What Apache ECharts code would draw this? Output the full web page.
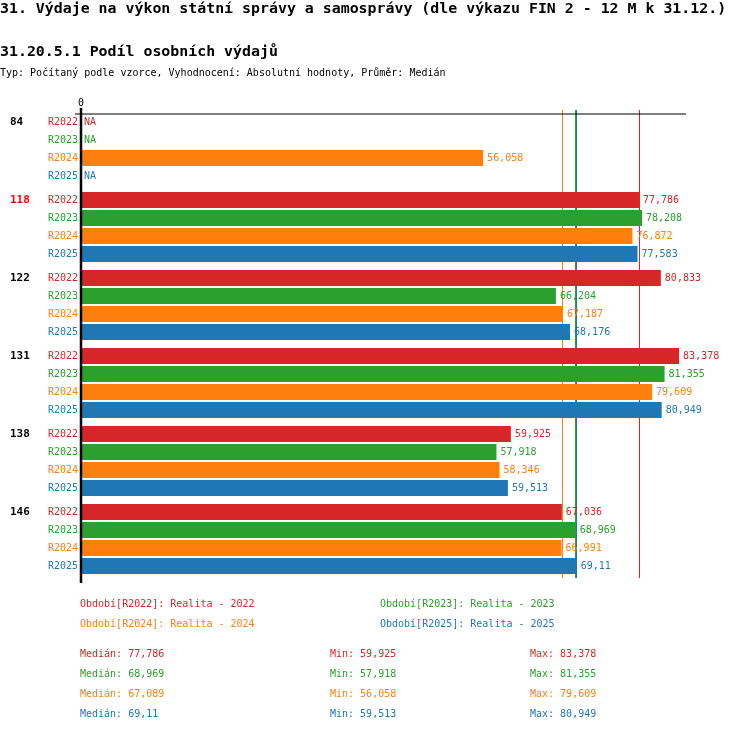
<!DOCTYPE html>
<html><head><meta charset="utf-8">
<script src="https://cdn.jsdelivr.net/npm/echarts@6/dist/echarts.min.js"></script>
<style>html,body{margin:0;padding:0;background:#fff}#c{width:750px;height:732px}</style>
</head><body><div id="c"></div>
<script>
// ---- data ----
const titleText = '31. Výdaje na výkon státní správy a samosprávy (dle výkazu FIN 2 - 12 M k 31.12.)';
const subtitleText = '31.20.5.1 Podíl osobních výdajů';
const infoText = 'Typ: Počítaný podle vzorce, Vyhodnocení: Absolutní hodnoty, Průměr: Medián';
const categories = ['84', '118', '122', '131', '138', '146'];
const highlighted = '118';
const seriesNames = ['R2022', 'R2023', 'R2024', 'R2025'];
const legendNames = ['Období[R2022]: Realita - 2022', 'Období[R2023]: Realita - 2023',
                     'Období[R2024]: Realita - 2024', 'Období[R2025]: Realita - 2025'];
const r2022 = [null, 77.786, 80.833, 83.378, 59.925, 67.036];
const r2023 = [null, 78.208, 66.204, 81.355, 57.918, 68.969];
const r2024 = [56.058, 76.872, 67.187, 79.609, 58.346, 66.991];
const r2025 = [null, 77.583, 68.176, 80.949, 59.513, 69.11];
const axisMax = 84.34;

// ---- style ----
const colors = ['#d62728', '#2ca02c', '#ff7f0e', '#1f77b4'];
const FONT = '"DejaVu Sans Mono", "Liberation Mono", monospace';
const GRID = { left: 81, top: 110, width: 605, height: 468 };
const ROW = 18, BAR_H = 16;

const allSeries = [r2022, r2023, r2024, r2025];
const fmt = v => String(v).replace('.', ',');
function median(a) {
  const s = a.filter(v => v !== null).sort((x, y) => x - y);
  const n = s.length;
  return n % 2 ? s[(n - 1) / 2] : +((s[n / 2 - 1] + s[n / 2]) / 2).toFixed(3);
}
const stats = allSeries.map(a => {
  const s = a.filter(v => v !== null);
  return { med: median(a), min: Math.min(...s), max: Math.max(...s) };
});

function makeRender(si, values) {
  return function (params, api) {
    const i = params.dataIndex;
    const v = values[i];
    const c0 = api.coord([0, i]);
    const yc = c0[1] + (si - 1.5) * ROW;
    const font = '10px ' + FONT;
    const children = [{
      type: 'text',
      style: { text: seriesNames[si], x: c0[0] - 3, y: yc, align: 'right', verticalAlign: 'middle', fill: colors[si], font }
    }];
    if (si === 0) {
      // group (category) label aligned with the first row of the group
      children.push({
        type: 'text',
        style: { text: categories[i], x: 10, y: yc, align: 'left', verticalAlign: 'middle',
          fill: categories[i] === highlighted ? '#ff0000' : '#000', font: 'bold 11px ' + FONT }
      });
    }
    if (v === null) {
      children.push({ type: 'text', style: { text: 'NA', x: c0[0] + 3, y: yc, align: 'left', verticalAlign: 'middle', fill: colors[si], font } });
    } else {
      const c1 = api.coord([v, i]);
      children.push({ type: 'rect', shape: { x: c0[0], y: yc - BAR_H / 2, width: c1[0] - c0[0], height: BAR_H }, style: { fill: colors[si] } });
      children.push({ type: 'text', style: { text: fmt(v), x: c1[0] + 4, y: yc, align: 'left', verticalAlign: 'middle', fill: colors[si], font } });
    }
    return { type: 'group', children };
  };
}

const series = [];
// median lines (under bars)
allSeries.forEach((a, si) => {
  series.push({
    type: 'line', data: [], z: 1, silent: true,
    markLine: {
      z: 1, silent: true, symbol: 'none', label: { show: false }, animation: false,
      lineStyle: { color: colors[si], width: 1, type: 'solid' },
      data: [{ xAxis: stats[si].med }]
    }
  });
});
allSeries.forEach((a, si) => {
  series.push({
    type: 'custom', name: seriesNames[si], z: 6, clip: false,
    renderItem: makeRender(si, a),
    encode: { x: 0, y: 1 },
    data: a.map((v, i) => [v === null ? 0 : v, i])
  });
});

const graphic = [];
const txt = (text, x, y, color, size, bold) => ({
  type: 'text', x, y, z: 20,
  style: { text, fill: color, font: (bold ? 'bold ' : '') + size + 'px ' + FONT, align: 'left', verticalAlign: 'middle' }
});
graphic.push(txt(titleText, 0, 9, '#000', 14.9, true));
graphic.push(txt(subtitleText, 0, 52, '#000', 14.9, true));
graphic.push(txt(infoText, 0, 73, '#000', 10, false));
// axis lines
graphic.push({ type: 'line', z: 10, shape: { x1: GRID.left - 6, y1: GRID.top + 4, x2: GRID.left + GRID.width, y2: GRID.top + 4 }, style: { stroke: '#000', lineWidth: 1.2 } });
graphic.push({ type: 'line', z: 10, shape: { x1: GRID.left, y1: GRID.top - 2, x2: GRID.left, y2: GRID.top + GRID.height + 5 }, style: { stroke: '#000', lineWidth: 2.5 } });
// legend
legendNames.forEach((t, i) => {
  graphic.push(txt(t, 80 + (i % 2) * 300, 604 + Math.floor(i / 2) * 20, colors[i], 10, false));
});
// stats
stats.forEach((s, i) => {
  const y = 654 + i * 20;
  graphic.push(txt('Medián: ' + fmt(s.med), 80, y, colors[i], 10, false));
  graphic.push(txt('Min: ' + fmt(s.min), 330, y, colors[i], 10, false));
  graphic.push(txt('Max: ' + fmt(s.max), 530, y, colors[i], 10, false));
});

const chart = echarts.init(document.getElementById('c'), null, { renderer: 'canvas' });
chart.setOption({
  animation: false,
  backgroundColor: '#fff',
  grid: GRID,
  xAxis: {
    type: 'value', position: 'top', min: 0, max: axisMax, interval: axisMax,
    axisLine: { show: false }, axisTick: { show: false }, splitLine: { show: false },
    axisLabel: { show: true, margin: 2, color: '#000', fontFamily: FONT, fontSize: 10,
      formatter: v => (v === 0 ? '0' : '') }
  },
  yAxis: {
    type: 'category', inverse: true, data: categories,
    axisLine: { show: false }, axisTick: { show: false }, splitLine: { show: false },
    axisLabel: { show: false }
  },
  series,
  graphic
});
</script>
</body></html>
